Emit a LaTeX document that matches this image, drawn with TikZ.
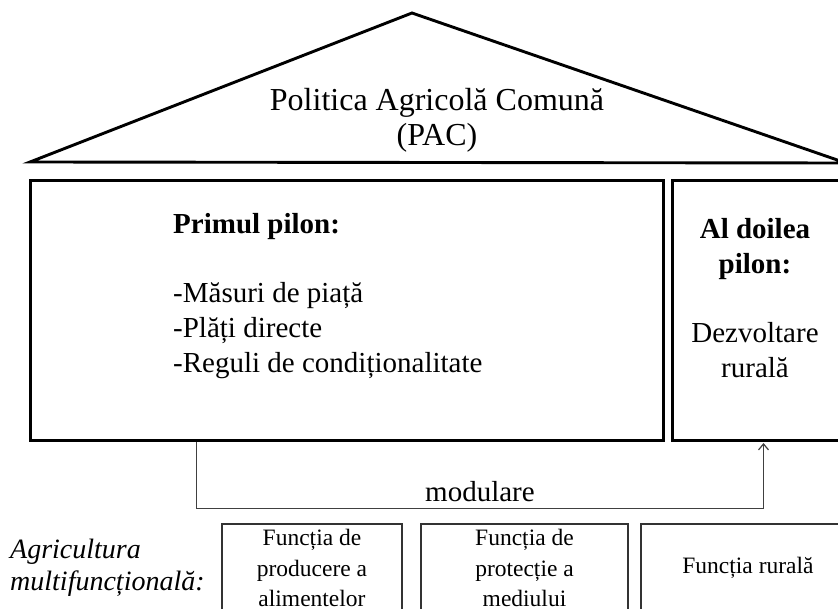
\documentclass[tikz,border=0pt]{standalone}
\usepackage{fontspec}
\setmainfont{Liberation Serif}
\usetikzlibrary{arrows.meta}
\usetikzlibrary{positioning}

\begin{document}
\begin{tikzpicture}[x=1pt,y=-1pt]

   %Styles of boxes and arrows
   \tikzstyle{roofline} = [draw=black, line width=2.9pt]
   \tikzstyle{rooftext} = [align=center, inner sep=0pt, font=\fontsize{32}{35}\selectfont]
   \tikzstyle{pillar} = [rectangle, draw=black, line width=3pt, inner sep=0pt, minimum height=259pt]
   \tikzstyle{pillartext} = [inner sep=0pt, font=\fontsize{29}{34.7}\selectfont]
   \tikzstyle{funcbox} = [rectangle, draw=black!80, line width=1.5pt, minimum height=88pt, align=center, inner sep=0pt, font=\fontsize{23.5}{30.5}\selectfont]
   \tikzstyle{modarrow} = [draw=black!75, line width=1.2pt, -{Straight Barb[length=6pt, width=10pt, line width=1.2pt]}, shorten >=1.5pt]

   %Page size of the figure
   \useasboundingbox (0,0) rectangle (838,609);
   \clip (0,0) rectangle (838,609);

   %Roof
   \draw[roofline] (30,162) -- (412,13) -- (846,163) -- cycle;
   \node[rooftext] (title) at (437,120) {Politica Agricolă Comună\\(PAC)};

   %Pillars
   \node[pillar, minimum width=633pt] (pillar1) at (346.5,310.5) {};
   \node[pillar, minimum width=169pt] (pillar2) at (756.5,310.5) {};
   \node[pillartext, align=left, anchor=west] (pillar1text) at (173,296)
      {\textbf{Primul pilon:}\\[34.7pt]-Măsuri de piață\\-Plăți directe\\-Reguli de condiționalitate};
   \node[pillartext, align=center] (pillar2text) at (755,298)
      {\textbf{Al doilea}\\\textbf{pilon:}\\[34.7pt]Dezvoltare\\rurală};

   %Arrow between the pillars
   \draw[modarrow] ([xshift=168pt]pillar1.south west) -- ++(0,67)
      -| node[pos=0.25, above=6pt, inner sep=0pt, font=\fontsize{29}{34}\selectfont] (modlabel) {modulare}
      ([xshift=93pt]pillar2.south west);

   %Functions of agriculture
   \node[pillartext, align=left, anchor=west, font=\fontsize{28}{32}\selectfont\itshape] (agri) at (10,568)
      {Agricultura\\multifuncțională:};
   \node[funcbox, minimum width=180pt] (food) at (312,568) {Funcția de\\producere a\\alimentelor};
   \node[funcbox, minimum width=207pt] (env) at (524.5,568) {Funcția de\\protecție a\\mediului};
   \node[funcbox, minimum width=214pt] (rural) at (748,568) {Funcția rurală};

\end{tikzpicture}
\end{document}
